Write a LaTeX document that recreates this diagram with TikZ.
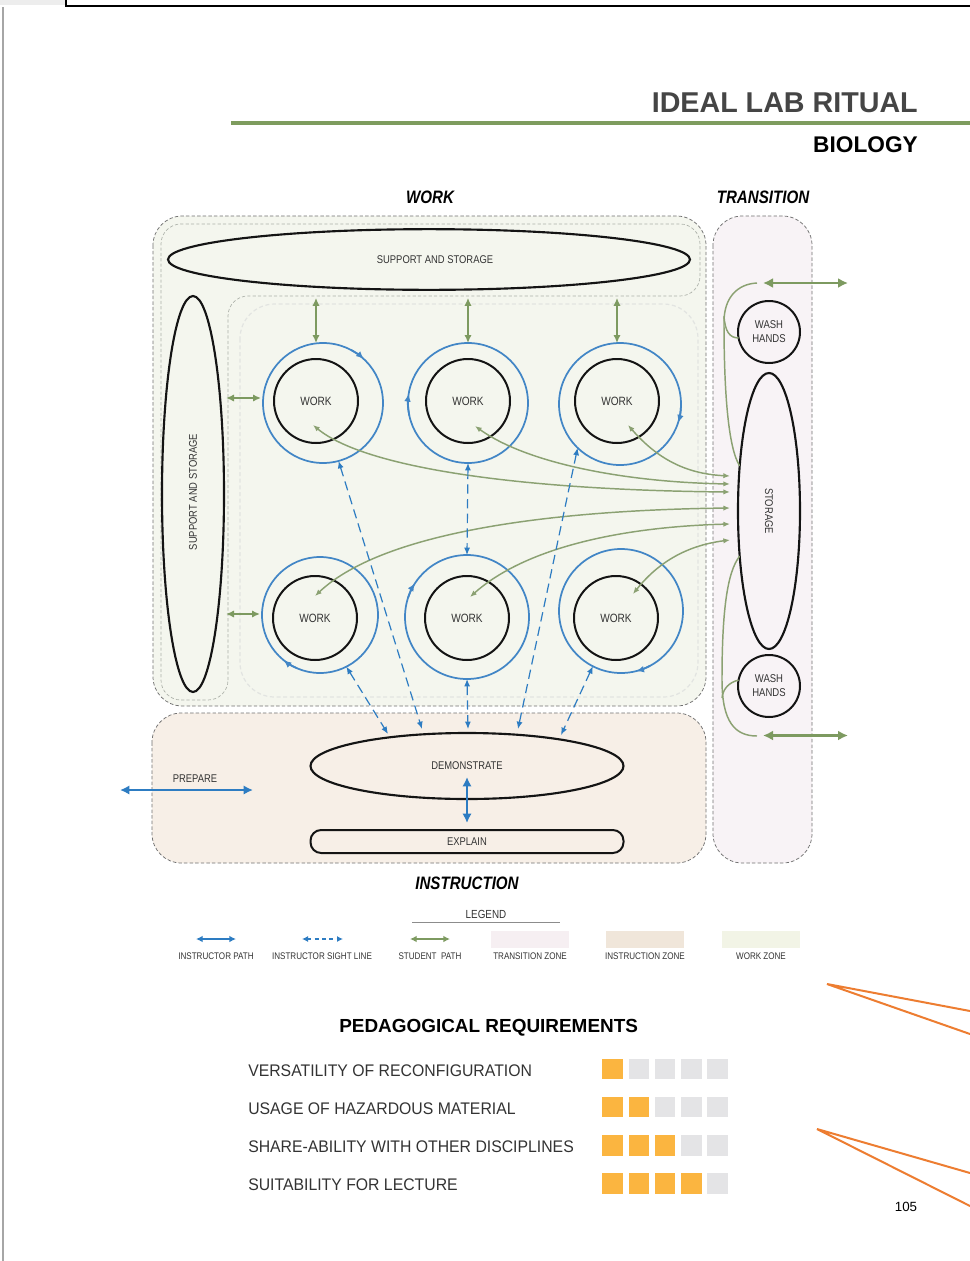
\documentclass[tikz,border=0pt]{standalone}
\usepackage{fontspec}
\setmainfont{Liberation Sans}
\newfontfamily\narrowsf[FakeStretch=0.84]{Liberation Sans}
\newfontfamily\legendsf[FakeStretch=0.84]{Liberation Sans}
\newfontfamily\rowsf[FakeStretch=0.94]{Liberation Sans}
\usetikzlibrary{arrows.meta,shapes.geometric,calc}

\definecolor{inkgray}{HTML}{333333}
\definecolor{titlegray}{HTML}{454545}
\definecolor{rulegreen}{HTML}{7E9C5E}
\definecolor{pathgreen}{HTML}{7D9A60}
\definecolor{curvegreen}{HTML}{8BA172}
\definecolor{pathblue}{HTML}{2D7CC2}
\definecolor{ringblue}{HTML}{4286C6}
\definecolor{workfill}{HTML}{F4F6EE}
\definecolor{transfill}{HTML}{F8F3F6}
\definecolor{instrfill}{HTML}{F7EFE7}
\definecolor{zoneline}{HTML}{707070}
\definecolor{innerline}{HTML}{ADB1A9}
\definecolor{barorange}{HTML}{FBB540}
\definecolor{bargray}{HTML}{E4E4E6}
\definecolor{callout}{HTML}{ED7D31}
\definecolor{swtrans}{HTML}{F6EFF2}
\definecolor{swinstr}{HTML}{F0E6DA}
\definecolor{swwork}{HTML}{F2F4E6}

\tikzset{
  x=0.75pt, y=-0.75pt,
  zone/.style={draw=zoneline, line width=0.55pt, dash pattern=on 2.6pt off 1.6pt, rounded corners=22pt},
  innerzone/.style={draw=innerline, line width=0.5pt, dash pattern=on 2.4pt off 1.6pt, rounded corners=15pt},
  faintzone/.style={draw=innerline!35, line width=0.9pt, dash pattern=on 3pt off 2pt, rounded corners=26pt},
  blob/.style={draw=black!92, line width=1.6pt, ellipse, inner sep=0pt, outer sep=0pt},
  station/.style={draw=black!92, line width=1.5pt, circle, inner sep=0pt, outer sep=0pt, minimum size=63pt,
    text=inkgray, font=\narrowsf\fontsize{9}{10}\selectfont},
  ring/.style={draw=ringblue, line width=1.3pt, circle, inner sep=0pt, outer sep=0pt},
  ringtip/.style={draw=ringblue, line width=1.3pt, -{Latex[length=6pt,width=5pt]}},
  sp/.style={draw=pathgreen, line width=1.5pt, {Latex[length=6pt,width=5.5pt]}-{Latex[length=6pt,width=5.5pt]}},
  door/.style={draw=pathgreen, line width=1.9pt, {Latex[length=7.5pt,width=7.5pt]}-{Latex[length=7.5pt,width=7.5pt]}},
  spcurve/.style={draw=curvegreen, line width=1.1pt, {Latex[length=5pt,width=4pt]}-{Latex[length=5pt,width=4pt]}},
  spline/.style={draw=curvegreen, line width=1.1pt},
  ip/.style={draw=pathblue, line width=1.6pt, {Latex[length=7pt,width=7pt]}-{Latex[length=7pt,width=7pt]}},
  sight/.style={draw=pathblue, line width=0.9pt, dash pattern=on 7pt off 4pt,
    {Latex[length=5.5pt,width=4.5pt]}-{Latex[length=5.5pt,width=4.5pt]}},
  lbl/.style={text=inkgray, font=\narrowsf\fontsize{8.4}{10}\selectfont, inner sep=0pt},
  zonetitle/.style={text=black, font=\narrowsf\bfseries\itshape\fontsize{13.5}{15}\selectfont, inner sep=0pt},
  legtext/.style={text=inkgray, font=\legendsf\fontsize{7.2}{8}\selectfont, inner sep=0pt},
  swatch/.style={inner sep=0pt, minimum width=58.5pt, minimum height=12.75pt},
  barcell/.style={inner sep=0pt, minimum size=15.4pt},
  reqtext/.style={text=inkgray, font=\rowsf\fontsize{12.6}{14}\selectfont, inner sep=0pt, anchor=base west},
}

\begin{document}
\begin{tikzpicture}
\useasboundingbox (0,0) rectangle (970,1261);
\fill[white] (0,0) rectangle (970,1261);

% page frame
\fill[black!7] (0,0) rectangle (65,5);
\draw[black, line width=1.6pt] (66,0) -- (66,6) -- (970,6);
\draw[black!35, line width=0.8pt] (3,7) -- (3,1261);

% headings
\node[anchor=base east, inner sep=0pt, text=titlegray, font=\bfseries\fontsize{21.5}{24}\selectfont] (title) at (918,112) {IDEAL LAB RITUAL};
\draw[rulegreen, line width=3pt] (231,123) -- (970,123);
\node[anchor=base east, inner sep=0pt, font=\bfseries\fontsize{17}{20}\selectfont] (subject) at (918,152) {BIOLOGY};

\node[zonetitle] (worktitle) at (430,197) {WORK};
\node[zonetitle] (transtitle) at (763,197) {TRANSITION};
\node[zonetitle] (instrtitle) at (467,883) {INSTRUCTION};

% zones
\path[zone, fill=workfill] (153,216) rectangle (706,706);
\path[zone, fill=transfill] (713,216) rectangle (812,863);
\path[zone, fill=instrfill] (152,713) rectangle (706,863);

% sub-areas of the work zone
\draw[innerzone] (228,700) -- (228,296) -- (700,296) -- (700,224) -- (161,224) -- (161,700) -- cycle;
\draw[faintzone] (240,304) rectangle (698,697);

% support and storage
\node[blob, minimum width=391.5pt, minimum height=45.5pt] (shelf) at (429,259.5) {};
\node[lbl] (shelflabel) at (435,260) {SUPPORT AND STORAGE};
\node[blob, minimum width=46.5pt, minimum height=297pt] (bench) at (193,494) {};
\node[lbl, rotate=90] (benchlabel) at (193,492) {SUPPORT AND STORAGE};

% work stations
\node[station] (w1) at (316,401) {WORK};
\node[station] (w2) at (468,401) {WORK};
\node[station] (w3) at (617,401) {WORK};
\node[station] (w4) at (315,618) {WORK};
\node[station] (w5) at (467,618) {WORK};
\node[station] (w6) at (616,618) {WORK};

% instructor loops round the stations
\node[ring, minimum size=90pt] (b1) at (323,403) {};
\node[ring, minimum size=90pt] (b2) at (468,403) {};
\node[ring, minimum size=91.5pt] (b3) at (620,404) {};
\node[ring, minimum size=87pt] (b4) at (320,615) {};
\node[ring, minimum size=93pt] (b5) at (467,617) {};
\node[ring, minimum size=93pt] (b6) at (621,611) {};
\foreach \r/\s/\e/\rad in {b1/62/47/45, b2/192/171/45, b3/358/342/45.75, b4/247/231/43.5, b5/162/147/46.5, b6/298/284/46.5}
  \draw[ringtip] (\r.\s) arc[start angle=\s, end angle=\e, radius=\rad pt];

% transition column
\node[station, minimum size=46.5pt, font=\narrowsf\fontsize{8.5}{10.5}\selectfont, align=center] (wash1) at (769,332) {WASH\\HANDS};
\node[blob, minimum width=46.5pt, minimum height=207pt] (store) at (769,511) {};
\node[lbl, rotate=-90] (storelabel) at (769,511) {STORAGE};
\node[station, minimum size=46.5pt, font=\narrowsf\fontsize{8.5}{10.5}\selectfont, align=center] (wash2) at (769,686) {WASH\\HANDS};

% instruction area
\node[blob, minimum width=234.75pt, minimum height=49.5pt, lbl] (demo) at (467,766) {DEMONSTRATE};
\node[draw=black!92, line width=1.5pt, rounded corners=8pt, minimum width=234.75pt, minimum height=17.25pt, lbl, outer sep=0pt] (explain) at (467,841.5) {EXPLAIN};

% student paths
\foreach \w/\b in {w1/b1, w2/b2, w3/b3}
  \draw[sp] ($(\w |- shelf.south)+(0,8)$) -- (\w |- \b.north);
\draw[sp] ($(bench.east |- w1)+(2,-3)$) -- ($(b1.west |- w1)+(-2,-3)$);
\draw[sp] ($(bench.east |- w4)+(2,-4)$) -- ($(b4.west |- w4)+(-2,-4)$);

\coordinate (s1) at ($(store.west)+(-8,-35)$);
\coordinate (s2) at ($(store.west)+(-8,-27)$);
\coordinate (s3) at ($(store.west)+(-8,-19)$);
\coordinate (s4) at ($(store.west)+(-8,-3)$);
\coordinate (s5) at ($(store.west)+(-8,13)$);
\coordinate (s6) at ($(store.west)+(-8,29)$);
\draw[spcurve] ($(w1)+(-3,24)$) .. controls (365,468) and (520,490) .. (s3);
\draw[spcurve] ($(w2)+(7,25)$) .. controls (525,462) and (620,482) .. (s2);
\draw[spcurve] ($(w3)+(11,24)$) .. controls (660,462) and (690,474) .. (s1);
\draw[spcurve] ($(w4)+(0,-22)$) .. controls (385,530) and (560,510) .. (s4);
\draw[spcurve] ($(w5)+(3,-21)$) .. controls (525,548) and (620,527) .. (s5);
\draw[spcurve] ($(w6)+(17,-24)$) .. controls (660,560) and (690,545) .. (s6);

\coordinate (inA) at (763,283);
\coordinate (outA) at (848,283);
\coordinate (inB) at (763,735.5);
\coordinate (outB) at (848,735.5);
\coordinate (turnA) at (757,283);
\coordinate (turnB) at (757,736);
\draw[door] (inA) -- (outA);
\draw[door] (inB) -- (outB);
\draw[spline] (turnA) .. controls (737,284) and (724,298) .. (724,322) .. controls (724,390) and (728,448) .. (store.123);
\draw[spline] (724,316) .. controls (725,332) and (730,338) .. (wash1.191);
\draw[spline] (store.237) .. controls (727,572) and (722,612) .. (722,680) .. controls (722,722) and (735,736) .. (turnB);
\draw[spline] (722,698) .. controls (723,688) and (730,682) .. (wash2.169);

% instructor sight lines
\coordinate (d1) at (388,734);
\coordinate (d2) at (422,729);
\coordinate (d3) at (468,729);
\coordinate (d4) at (518,729);
\coordinate (d5) at (561,735);
\draw[sight] (b1.285) -- (d2);
\draw[sight] (b4.297) -- (d1);
\draw[sight] (b2.south) -- (b5.north);
\draw[sight] (b5.south) -- (d3);
\draw[sight] (b3.226) -- (d4);
\draw[sight] (b6.243) -- (d5);

% instructor paths
\draw[ip] ($(demo.center)+(0,11)$) -- ($(explain.north)+(0,-7)$);
\coordinate (prepL) at (120,790);
\coordinate (prepR) at (253,790);
\draw[ip] (prepL) -- (prepR);
\node[lbl] (preplabel) at (195,779) {PREPARE};

% legend
\node[lbl, font=\narrowsf\fontsize{8.8}{10}\selectfont] (legendtitle) at (486,914) {LEGEND};
\draw[black!45, line width=0.7pt] (412,922) -- (560,922);
\coordinate (l1a) at (196,939); \coordinate (l1b) at (236,939);
\coordinate (l2a) at (302,939); \coordinate (l2b) at (343,939);
\coordinate (l3a) at (410,939); \coordinate (l3b) at (450,939);
\draw[ip, line width=1.3pt, {Latex[length=5pt,width=5pt]}-{Latex[length=5pt,width=5pt]}] (l1a) -- (l1b);
\draw[sight, dash pattern=on 3pt off 2.5pt, {Latex[length=4.5pt,width=4.5pt]}-{Latex[length=4.5pt,width=4.5pt]}] (l2a) -- (l2b);
\draw[sp, line width=1.2pt, {Latex[length=5pt,width=5pt]}-{Latex[length=5pt,width=5pt]}] (l3a) -- (l3b);
\node[swatch, fill=swtrans] (sw1) at (530,939) {};
\node[swatch, fill=swinstr] (sw2) at (645,939) {};
\node[swatch, fill=swwork] (sw3) at (761,939) {};
\node[legtext] (lt1) at (216,956) {INSTRUCTOR PATH};
\node[legtext] (lt2) at (322,956) {INSTRUCTOR SIGHT LINE};
\node[legtext] (lt3) at (430,956) {STUDENT\ \ PATH};
\node[legtext] (lt4) at (530,956) {TRANSITION ZONE};
\node[legtext] (lt5) at (645,956) {INSTRUCTION ZONE};
\node[legtext] (lt6) at (761,956) {WORK ZONE};

% call-out strokes
\coordinate (cA) at (827,984);
\coordinate (cA1) at (970,1011);
\coordinate (cA2) at (970,1034);
\coordinate (cB) at (817,1129);
\coordinate (cB1) at (970,1173);
\coordinate (cB2) at (970,1206);
\draw[callout, line width=1.5pt] (cA1) -- (cA) -- (cA2);
\draw[callout, line width=1.5pt] (cB1) -- (cB) -- (cB2);

% pedagogical requirements
\node[anchor=base west, inner sep=0pt, font=\bfseries\fontsize{14.2}{16}\selectfont] (reqtitle) at (339,1032) {PEDAGOGICAL REQUIREMENTS};
\node[reqtext] (req1) at (248,1076) {VERSATILITY OF RECONFIGURATION};
\node[reqtext] (req2) at (248,1114) {USAGE OF HAZARDOUS MATERIAL};
\node[reqtext] (req3) at (248,1152) {SHARE-ABILITY WITH OTHER DISCIPLINES};
\node[reqtext] (req4) at (248,1190) {SUITABILITY FOR LECTURE};
\foreach \row/\yc in {1/1069, 2/1107, 3/1145.5, 4/1183.5}
  \foreach \c in {1,...,5} {
    \pgfmathsetmacro\xc{612.7+26.2*(\c-1)}
    \ifnum\c>\row\relax
      \node[barcell, fill=bargray] (bar\row-\c) at (\xc,\yc) {};
    \else
      \node[barcell, fill=barorange] (bar\row-\c) at (\xc,\yc) {};
    \fi
  }

\node[inner sep=0pt, font=\fontsize{10}{12}\selectfont] (pageno) at (906,1207) {105};
\end{tikzpicture}
\end{document}
